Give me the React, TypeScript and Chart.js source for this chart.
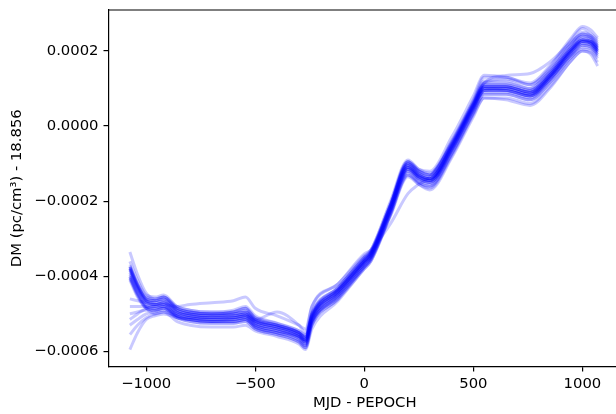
import { useEffect, useRef } from "react";
import { Chart, registerables } from "chart.js";

Chart.register(...registerables);

// MJD - PEPOCH (days)
const MJD = [-1075, -1040, -1000, -960, -920, -860, -800, -700, -600, -545, -500, -400, -300, -270, -240, -120, 0, 30, 120, 200, 250, 300, 400, 500, 550, 650, 760, 850, 950, 1000, 1040, 1070];

// DM realizations, in units of 1e-4 pc/cm^3 (offset from 18.856)
const DM_UNIT = 1e-4;
const R00 = [-3.9, -4.35, -4.7, -4.75, -4.7, -4.95, -5.05, -5.1, -5.1, -5.05, -5.25, -5.4, -5.6, -5.75, -5.15, -4.45, -3.65, -3.45, -2.2, -1.1, -1.35, -1.45, -0.6, 0.5, 1.0, 1.0, 0.85, 1.3, 2.0, 2.25, 2.2, 2.0];
const R01 = [-3.6, -4.1, -4.5, -4.55, -4.5, -4.8, -4.9, -4.95, -4.9, -4.8, -5.05, -5.25, -5.45, -5.55, -4.95, -4.3, -3.5, -3.35, -2.1, -0.95, -1.2, -1.3, -0.45, 0.65, 1.2, 1.2, 1.0, 1.45, 2.2, 2.45, 2.35, 2.15];
const R02 = [-4.1, -4.55, -4.85, -4.9, -4.85, -5.1, -5.2, -5.25, -5.25, -5.2, -5.4, -5.55, -5.75, -5.9, -5.3, -4.6, -3.75, -3.55, -2.35, -1.3, -1.5, -1.6, -0.75, 0.35, 0.85, 0.85, 0.7, 1.15, 1.85, 2.05, 2.0, 1.8];
const R03 = [-3.35, -3.95, -4.45, -4.6, -4.55, -4.85, -4.95, -5.0, -4.95, -4.85, -5.15, -5.3, -5.5, -5.65, -5.05, -4.35, -3.55, -3.4, -2.15, -1.0, -1.25, -1.4, -0.5, 0.6, 1.1, 1.1, 0.95, 1.4, 2.1, 2.4, 2.3, 2.1];
const R04 = [-4.6, -4.65, -4.7, -4.75, -4.75, -5.0, -5.1, -5.15, -5.15, -5.1, -5.3, -5.45, -5.6, -5.7, -5.1, -4.4, -3.6, -3.45, -2.25, -1.2, -1.4, -1.5, -0.65, 0.45, 0.95, 0.95, 0.8, 1.25, 1.95, 2.2, 2.15, 1.95];
const R05 = [-4.8, -4.8, -4.8, -4.8, -4.8, -5.0, -5.0, -5.0, -4.95, -4.85, -5.1, -5.3, -5.5, -5.6, -5.0, -4.35, -3.6, -3.4, -2.1, -1.05, -1.3, -1.4, -0.55, 0.55, 1.05, 1.05, 0.9, 1.35, 2.05, 2.3, 2.25, 2.1];
const R06 = [-5.0, -4.95, -4.9, -4.9, -4.85, -5.05, -5.1, -5.15, -5.1, -5.05, -5.2, -5.35, -5.55, -5.7, -5.2, -4.5, -3.7, -3.5, -2.3, -1.15, -1.35, -1.45, -0.6, 0.5, 1.0, 0.95, 0.8, 1.3, 2.0, 2.25, 2.25, 2.05];
const R07 = [-5.3, -5.15, -5.0, -4.95, -4.9, -5.1, -5.15, -5.2, -5.2, -5.15, -5.35, -5.5, -5.65, -5.8, -5.2, -4.5, -3.65, -3.5, -2.25, -1.15, -1.4, -1.5, -0.65, 0.45, 0.95, 0.95, 0.8, 1.25, 1.9, 2.15, 2.1, 1.9];
const R08 = [-5.55, -5.3, -5.1, -5.0, -4.95, -5.05, -5.1, -5.1, -5.05, -5.0, -5.2, -5.35, -5.5, -5.6, -5.05, -4.4, -3.6, -3.4, -2.2, -1.1, -1.3, -1.4, -0.55, 0.55, 1.05, 1.05, 0.9, 1.35, 2.05, 2.3, 2.2, 2.0];
const R09 = [-5.95, -5.5, -5.15, -5.05, -5.0, -5.1, -5.15, -5.2, -5.15, -5.1, -5.3, -5.45, -5.6, -5.75, -5.15, -4.45, -3.65, -3.45, -2.2, -1.1, -1.35, -1.45, -0.6, 0.5, 0.95, 1.0, 0.85, 1.3, 2.0, 2.25, 2.2, 2.0];
const R10 = [-5.15, -5.0, -4.85, -4.8, -4.75, -4.8, -4.75, -4.7, -4.65, -4.55, -4.85, -5.05, -5.3, -5.4, -4.8, -4.2, -3.45, -3.3, -2.0, -0.9, -1.15, -1.25, -0.4, 0.7, 1.3, 1.3, 1.1, 1.55, 2.3, 2.6, 2.45, 2.3];
const R11 = [-4.0, -4.5, -4.85, -5.0, -4.95, -5.2, -5.3, -5.35, -5.35, -5.3, -5.45, -5.6, -5.8, -5.95, -5.4, -4.65, -3.8, -3.6, -2.4, -1.35, -1.55, -1.65, -0.8, 0.3, 0.75, 0.75, 0.6, 1.05, 1.75, 2.0, 1.95, 1.7];
const R12 = [-3.75, -4.25, -4.6, -4.65, -4.55, -4.85, -4.95, -5.0, -5.0, -4.95, -5.15, -4.95, -5.3, -5.5, -4.8, -4.2, -3.4, -3.3, -2.6, -1.8, -1.55, -1.35, -0.5, 0.6, 1.15, 1.25, 1.1, 1.5, 2.2, 2.5, 2.4, 2.2];
const R13 = [-3.85, -4.3, -4.65, -4.7, -4.65, -4.9, -5.0, -5.05, -5.05, -5.0, -5.2, -5.35, -5.55, -5.7, -5.1, -4.4, -3.6, -3.4, -2.15, -1.05, -1.3, -1.4, -0.55, 0.55, 1.05, 1.05, 0.9, 1.35, 2.05, 2.3, 2.25, 2.05];
const R14 = [-3.95, -4.4, -4.75, -4.8, -4.75, -5.0, -5.1, -5.15, -5.15, -5.1, -5.3, -5.45, -5.65, -5.8, -5.2, -4.5, -3.7, -3.5, -2.25, -1.15, -1.4, -1.5, -0.65, 0.45, 0.95, 0.95, 0.8, 1.25, 1.95, 2.2, 2.15, 1.95];
const R15 = [-3.7, -4.2, -4.6, -4.65, -4.6, -4.9, -5.0, -5.05, -5.0, -4.95, -5.15, -5.3, -5.5, -5.65, -5.05, -4.35, -3.55, -3.35, -2.1, -0.95, -1.15, -1.2, -0.3, 0.8, 1.35, 1.3, 1.15, 1.6, 2.35, 2.65, 2.55, 2.35];
const R16 = [-4.05, -4.45, -4.8, -4.85, -4.8, -5.05, -5.15, -5.2, -5.2, -5.15, -5.35, -5.5, -5.7, -5.85, -5.25, -4.55, -3.75, -3.55, -2.35, -1.3, -1.55, -1.7, -0.85, 0.25, 0.75, 0.7, 0.55, 1.0, 1.75, 2.0, 1.9, 1.6];
const R17 = [-3.8, -4.3, -4.7, -4.75, -4.7, -4.95, -5.05, -5.1, -5.1, -5.05, -5.25, -5.4, -5.6, -5.7, -5.0, -4.3, -3.5, -3.35, -2.1, -1.0, -1.2, -1.3, -0.45, 0.6, 1.15, 1.35, 1.4, 1.7, 2.25, 2.45, 2.4, 2.25];
const R18 = [-3.75, -4.2, -4.55, -4.6, -4.55, -4.8, -4.9, -4.95, -4.95, -4.9, -5.1, -5.25, -5.45, -5.6, -5.0, -4.3, -3.5, -3.3, -2.05, -0.95, -1.2, -1.3, -0.45, 0.65, 1.15, 1.15, 1.0, 1.45, 2.15, 2.4, 2.35, 2.15];
const R19 = [-3.75, -4.25, -4.65, -4.75, -4.7, -4.95, -5.05, -5.1, -5.1, -5.05, -5.25, -5.4, -5.6, -5.75, -5.15, -4.45, -3.65, -3.45, -2.2, -1.1, -1.35, -1.45, -0.6, 0.5, 1.0, 1.0, 0.85, 1.3, 2.0, 2.25, 2.2, 2.0];
const R20 = [-4.05, -4.5, -4.85, -4.9, -4.85, -5.1, -5.2, -5.25, -5.25, -5.2, -5.4, -5.55, -5.75, -5.9, -5.3, -4.6, -3.8, -3.6, -2.35, -1.25, -1.5, -1.6, -0.75, 0.35, 0.85, 0.85, 0.7, 1.15, 1.85, 2.1, 2.05, 1.85];
const R21 = [-3.8, -4.25, -4.6, -4.65, -4.6, -4.85, -4.95, -5.0, -5.0, -4.95, -5.15, -5.3, -5.5, -5.65, -5.05, -4.35, -3.55, -3.35, -2.1, -1.0, -1.25, -1.35, -0.5, 0.6, 1.1, 1.1, 0.95, 1.4, 2.1, 2.35, 2.3, 2.1];
const R22 = [-4.0, -4.45, -4.8, -4.85, -4.8, -5.05, -5.15, -5.2, -5.2, -5.15, -5.35, -5.5, -5.7, -5.85, -5.25, -4.55, -3.75, -3.55, -2.3, -1.2, -1.45, -1.55, -0.7, 0.4, 0.9, 0.9, 0.75, 1.2, 1.9, 2.15, 2.1, 1.9];
const R23 = [-3.8, -4.3, -4.65, -4.7, -4.65, -4.9, -5.0, -5.05, -5.05, -5.0, -5.2, -5.35, -5.55, -5.7, -5.1, -4.4, -3.6, -3.4, -2.15, -1.05, -1.3, -1.4, -0.55, 0.55, 1.05, 1.05, 0.9, 1.35, 2.05, 2.3, 2.25, 2.05];

const REALIZATIONS = [R00, R01, R02, R03, R04, R05, R06, R07, R08, R09, R10, R11, R12, R13, R14, R15, R16, R17, R18, R19, R20, R21, R22, R23];

const X_TICKS = [-1000, -500, 0, 500, 1000];
const Y_TICKS = [-0.0006, -0.0004, -0.0002, 0, 0.0002];

const X_TITLE = "MJD - PEPOCH";
const Y_TITLE = "DM (pc/cm\u00B3) - 18.856";

const FONT = { family: "'DejaVu Sans', sans-serif", size: 14.8, lineHeight: 1.2 };

const minus = (s: string) => s.replace("-", "\u2212");

const topSpine = {
  id: "topSpine",
  afterDraw(chart: any) {
    const { ctx, chartArea } = chart;
    ctx.save();
    ctx.strokeStyle = "#000";
    ctx.lineWidth = 1.2;
    ctx.beginPath();
    ctx.moveTo(chartArea.left, chartArea.top);
    ctx.lineTo(chartArea.right, chartArea.top);
    ctx.stroke();
    ctx.restore();
  },
};

export default function App() {
  const ref = useRef<HTMLCanvasElement | null>(null);

  useEffect(() => {
    if (!ref.current) return;
    const chart = new Chart(ref.current, {
      type: "line",
      data: {
        datasets: REALIZATIONS.map((r) => ({
          data: MJD.map((x, i) => ({ x, y: r[i] * DM_UNIT })),
          borderColor: "rgba(0,0,255,0.21)",
          borderWidth: 3,
          pointRadius: 0,
          cubicInterpolationMode: "monotone" as const,
          fill: false,
        })),
      },
      options: {
        animation: false,
        responsive: false,
        devicePixelRatio: 1,
        layout: { padding: { top: 10, right: 0, left: 0, bottom: 0 } },
        plugins: { legend: { display: false }, tooltip: { enabled: false } },
        scales: {
          x: {
            type: "linear",
            min: -1173,
            max: 1177,
            afterBuildTicks: (s: any) => {
              s.ticks = X_TICKS.map((value) => ({ value }));
            },
            afterFit: (s: any) => {
              s.height = 47.5;
              s.paddingLeft = 0;
              s.paddingRight = 0;
            },
            grid: { display: true, drawOnChartArea: false, drawTicks: true, tickLength: 5, color: "#000", lineWidth: 1.2 },
            border: { display: true, color: "#000", width: 1.2 },
            ticks: {
              color: "#000",
              font: FONT,
              padding: 4,
              maxRotation: 0,
              autoSkip: false,
              callback: (v: any) => minus(String(v)),
            },
            title: { display: true, text: X_TITLE, color: "#000", font: FONT, padding: { top: 0, bottom: 2 } },
          },
          y: {
            type: "linear",
            min: -0.00064,
            max: 0.000309,
            afterBuildTicks: (s: any) => {
              s.ticks = Y_TICKS.map((value) => ({ value }));
            },
            afterFit: (s: any) => {
              s.width = 108.5;
              s.paddingTop = 0;
              s.paddingBottom = 0;
            },
            grid: { display: true, drawOnChartArea: false, drawTicks: true, tickLength: 5, color: "#000", lineWidth: 1.2 },
            border: { display: true, color: "#000", width: 1.2 },
            ticks: {
              color: "#000",
              font: FONT,
              padding: 5,
              autoSkip: false,
              callback: (v: any) => minus(Number(v).toFixed(4)),
            },
            title: { display: true, text: Y_TITLE, color: "#000", font: FONT, padding: { top: 8, bottom: 0 } },
          },
        },
      },
      plugins: [topSpine],
    });
    return () => chart.destroy();
  }, []);

  return (
    <div style={{ position: "fixed", left: 0, top: 0, width: 616, height: 414, overflow: "hidden", background: "#fff" }}>
      <canvas ref={ref} width={621} height={414} style={{ display: "block" }} />
    </div>
  );
}
